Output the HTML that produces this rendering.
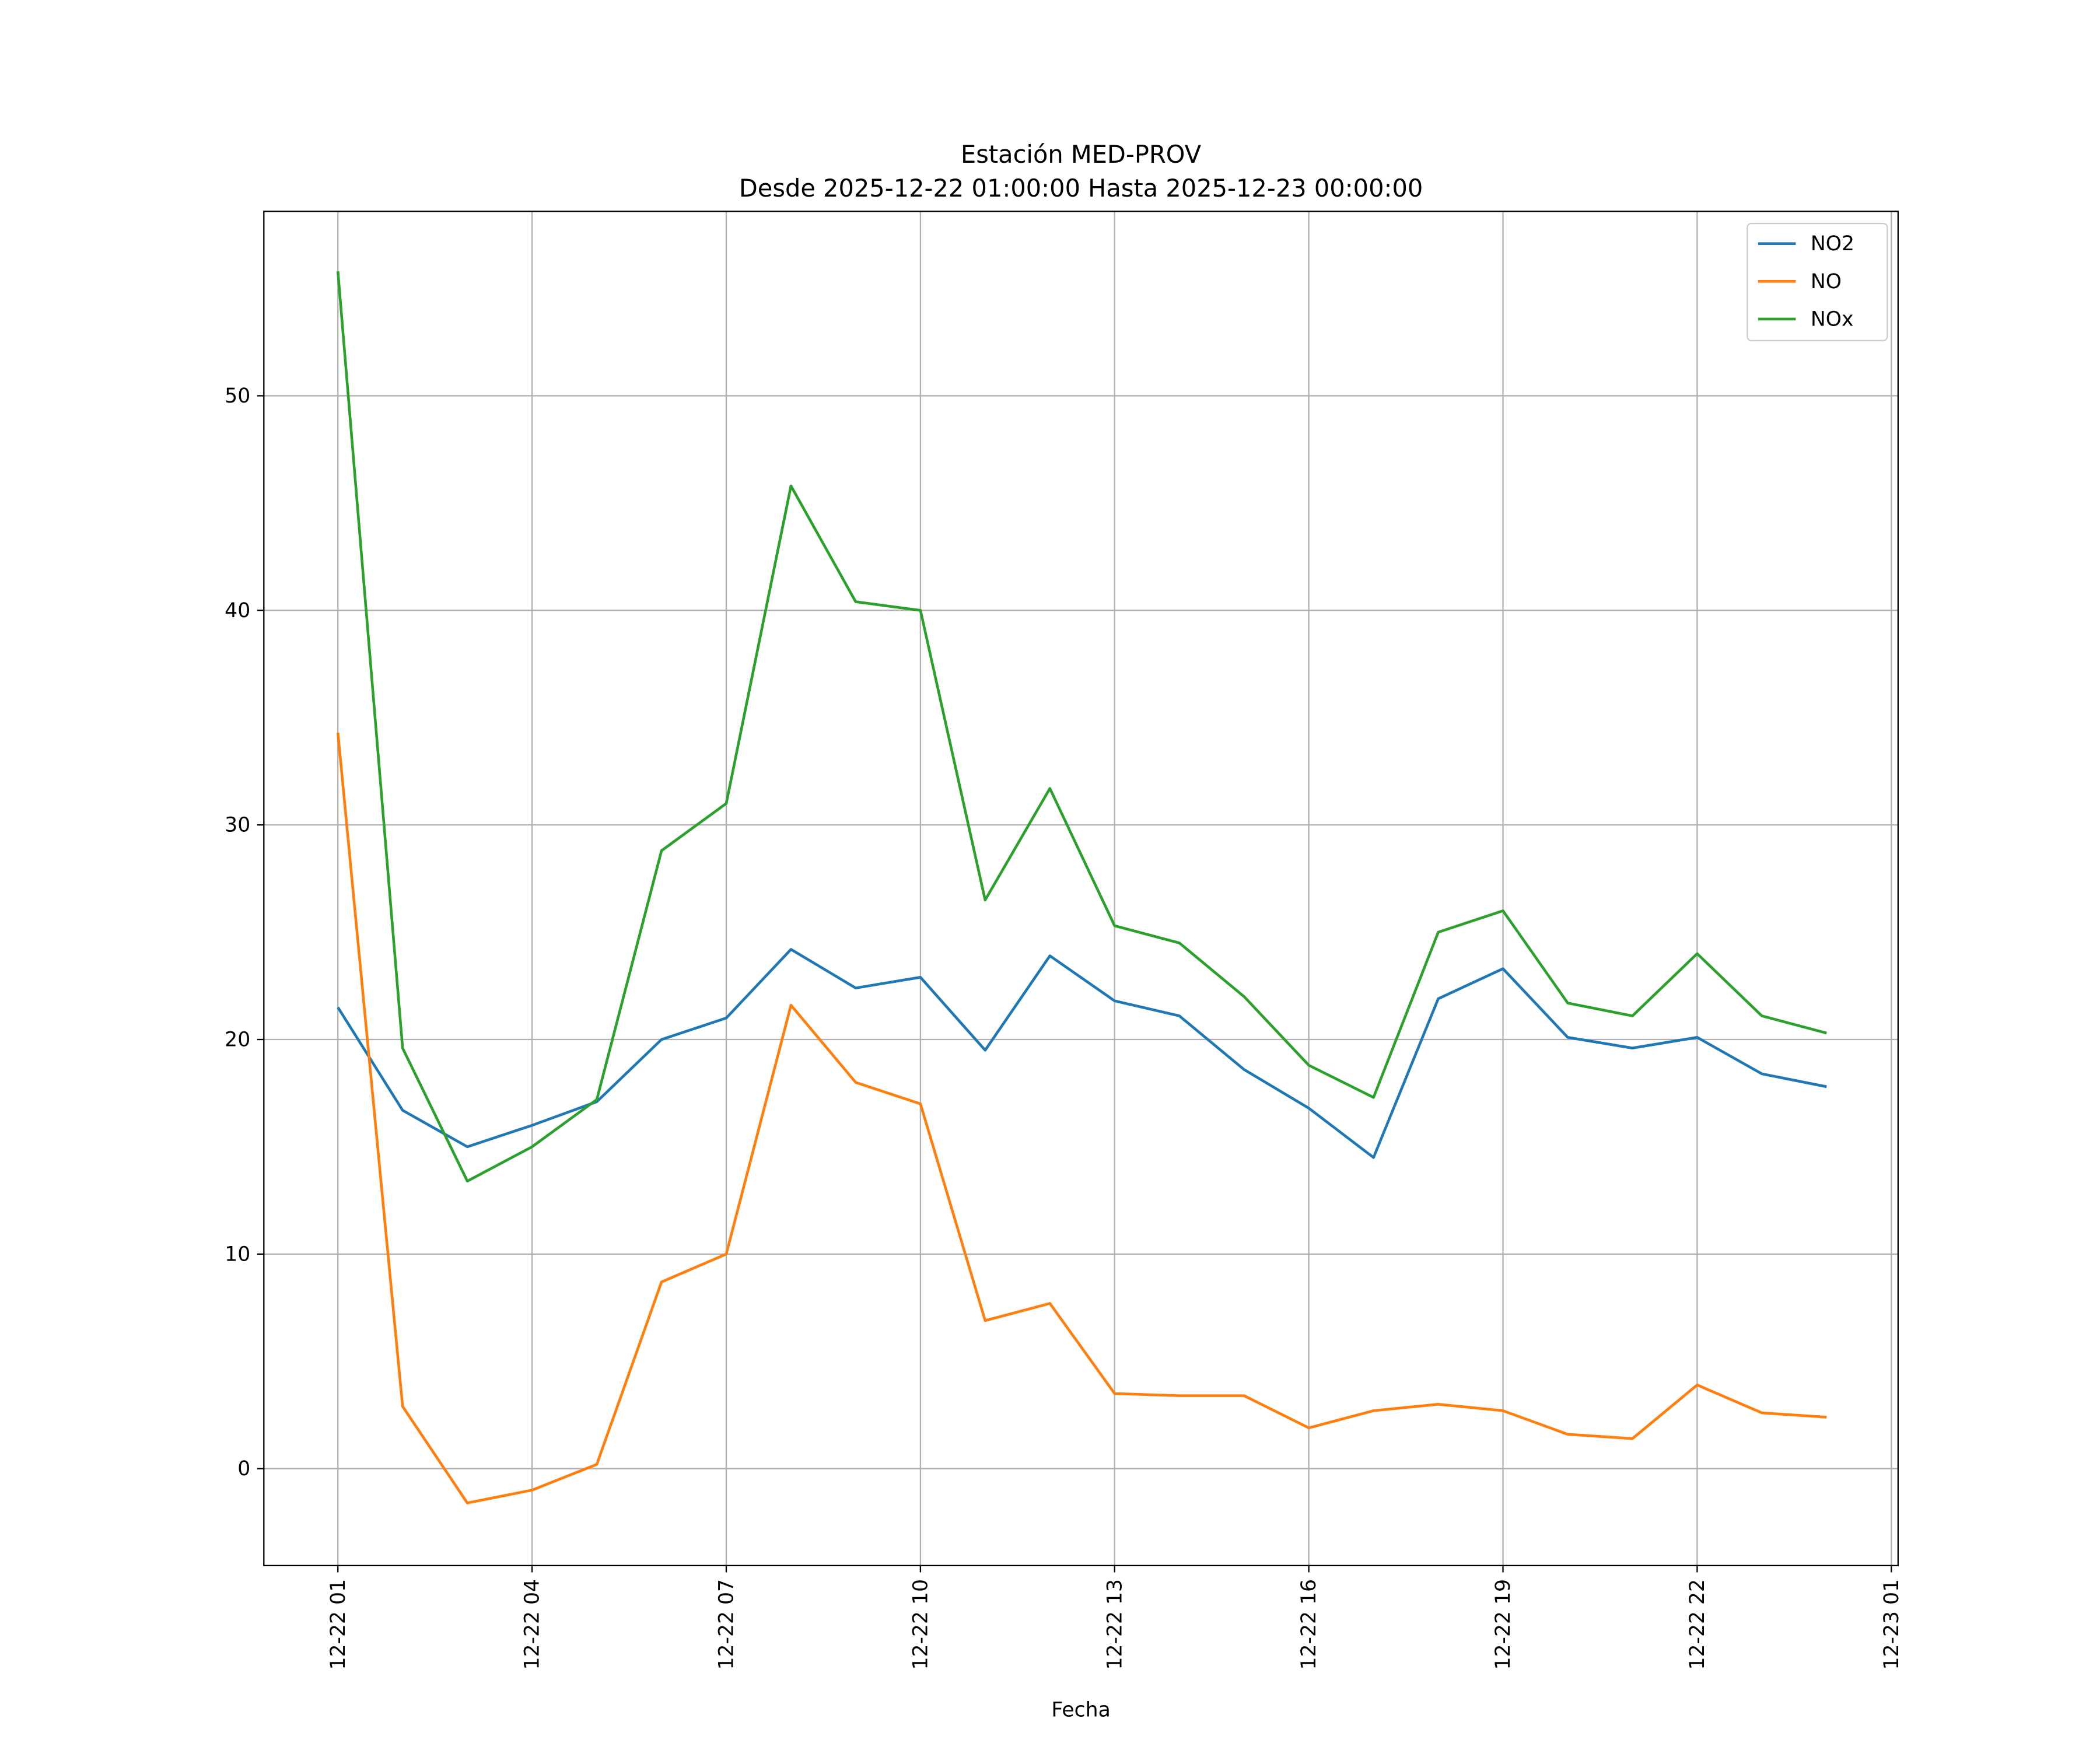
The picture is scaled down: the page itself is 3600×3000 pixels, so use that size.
<!DOCTYPE html>
<html><head><meta charset="utf-8"><style>html,body{margin:0;padding:0;background:#fff}svg{display:block}</style></head>
<body>
<svg id="chart" width="3600" height="3000" viewBox="0 0 1560 1300" xmlns="http://www.w3.org/2000/svg" font-family="'DejaVu Sans','Liberation Sans',sans-serif">
<rect width="1560" height="1300" fill="#fff"/>
<text x="803" y="121" font-size="18" text-anchor="middle">Estación MED-PROV</text>
<text x="803" y="146" font-size="18" text-anchor="middle">Desde 2025-12-22 01:00:00 Hasta 2025-12-23 00:00:00</text>
<g id="grid"></g><g id="series"></g><g id="ticks"></g>
<rect x="196" y="157" width="1214" height="1006" fill="none" stroke="#000" stroke-width="1"/>
<text x="803" y="1275" font-size="15" text-anchor="middle">Fecha</text>
<g>
<rect x="1298" y="166" width="104" height="87" fill="#fff" stroke="#ccc" rx="3"/>
<g><line x1="1306" y1="181" x2="1334" y2="181" stroke="#1f77b4" stroke-width="2"/><text x="1345" y="186" font-size="15">NO2</text></g>
<g><line x1="1306" y1="209" x2="1334" y2="209" stroke="#ff7f0e" stroke-width="2"/><text x="1345" y="214" font-size="15">NO</text></g>
<g><line x1="1306" y1="237" x2="1334" y2="237" stroke="#2ca02c" stroke-width="2"/><text x="1345" y="242" font-size="15">NOx</text></g>
</g>
</svg>
<script>
const hours = [1,2,3,4,5,6,7,8,9,10,11,12,13,14,15,16,17,18,19,20,21,22,23,24];
const no2 = [21.5,16.7,15.0,16.0,17.1,20.0,21.0,24.2,22.4,22.9,19.5,23.9,21.8,21.1,18.6,16.8,14.5,21.9,23.3,20.1,19.6,20.1,18.4,17.8];
const no = [34.3,2.9,-1.6,-1.0,0.2,8.7,10.0,21.6,18.0,17.0,6.9,7.7,3.5,3.4,3.4,1.9,2.7,3.0,2.7,1.6,1.4,3.9,2.6,2.4];
const nox = [55.8,19.6,13.4,15.0,17.2,28.8,31.0,45.8,40.4,40.0,26.5,31.7,25.3,24.5,22.0,18.8,17.3,25.0,26.0,21.7,21.1,24.0,21.1,20.3];
const yTicks = [0,10,20,30,40,50];
const xTickHours = [1,4,7,10,13,16,19,22,25];
const xTickLabels = ["12-22 01","12-22 04","12-22 07","12-22 10","12-22 13","12-22 16","12-22 19","12-22 22","12-23 01"];
const NS="http://www.w3.org/2000/svg";
const X = h => 251 + (h-1)*(1154/24);
const Y = v => 1091 - v*15.94;
const grid=document.getElementById('grid'), ticks=document.getElementById('ticks'), series=document.getElementById('series');
function mk(tag, attrs, parent){const e=document.createElementNS(NS,tag);for(const k in attrs)e.setAttribute(k,attrs[k]);parent.appendChild(e);return e;}
yTicks.forEach(v=>{
  const g=mk('line',{x1:196,x2:1410,y1:Y(v),y2:Y(v),stroke:'#b0b0b0','stroke-width':1},grid);
  
  
  mk('line',{x1:191,x2:196,y1:Y(v),y2:Y(v),stroke:'#000'},ticks);
  const t=mk('text',{x:186,y:Y(v)+5,'font-size':15,'text-anchor':'end'},ticks);
  t.textContent=v;
  
  
});
xTickHours.forEach((h,i)=>{
  const g=mk('line',{x1:X(h),x2:X(h),y1:157,y2:1163,stroke:'#b0b0b0','stroke-width':1},grid);
  
  
  mk('line',{x1:X(h),x2:X(h),y1:1163,y2:1168,stroke:'#000'},ticks);
  const t=mk('text',{x:0,y:0,'font-size':15,'text-anchor':'end',transform:`translate(${X(h)+5},1173) rotate(-90)`},ticks);
  t.textContent=xTickLabels[i];
  
  
});
[[no2,'#1f77b4','line-no2'],[no,'#ff7f0e','line-no'],[nox,'#2ca02c','line-nox']].forEach(([d,c,n])=>{
  const p=mk('polyline',{points:d.map((v,i)=>X(hours[i])+','+Y(v)).join(' '),fill:'none',stroke:c,'stroke-width':2,'stroke-linejoin':'round'},series);
  
  
});
</script>
</body></html>
